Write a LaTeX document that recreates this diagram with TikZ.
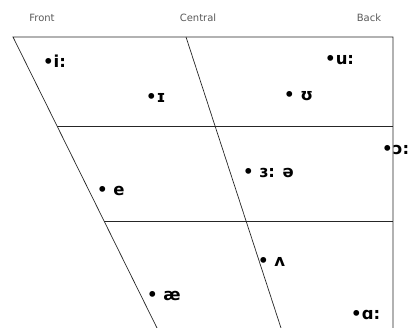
\documentclass[tikz,border=0pt]{standalone}
\usepackage{fontspec}
\setmainfont{DejaVu Sans}
\usetikzlibrary{positioning}
\tikzset{
  vowel/.style={anchor=west,inner sep=0pt,font=\fontsize{16.5}{18}\selectfont\bfseries},
  place/.style={inner sep=0pt,text=black!65,font=\fontsize{10}{12}\selectfont},
  chart/.style={line width=0.7pt,black!85}
}

\begin{document}
\begin{tikzpicture}[x=1pt,y=-1pt]
\useasboundingbox (0,0) rectangle (419,328);

% corners of the chart
\coordinate (tl) at (13,37);
\coordinate (tc) at (186,37);
\coordinate (tr) at (393,37);
\coordinate (ml) at (57,126);
\coordinate (mr) at (393,126);
\coordinate (ll) at (104,221);
\coordinate (lr) at (393,221);
\coordinate (bl) at (157,328);
\coordinate (bc) at (281,328);
\coordinate (br) at (393,328);

\draw[chart] (bl) -- (tl) -- (tr) -- (br);
\draw[chart] (tc) -- (bc);
\draw[chart] (ml) -- (mr);
\draw[chart] (ll) -- (lr);

\node[place] (front) at (42,18) {Front};
\node[place] (central) at (198,18) {Central};
\node[place] (back) at (369,18) {Back};

\node[vowel] (i) at (43,61) {•i:};
\node[vowel] (ih) at (146,98) {•ɪ};
\node[vowel] (u) at (325,60) {•u:};
\node[vowel] (uh) at (284,96) {• ʊ};
\node[vowel] (aw) at (382,150) {•ɔ:};
\node[vowel] (er) at (243,173) {• ɜ: ə};
\node[vowel] (e) at (97,191) {• e};
\node[vowel] (uhh) at (258,262) {• ʌ};
\node[vowel] (ae) at (147,296) {• æ};
\node[vowel] (ah) at (351,315) {•ɑ:};

\end{tikzpicture}
\end{document}
